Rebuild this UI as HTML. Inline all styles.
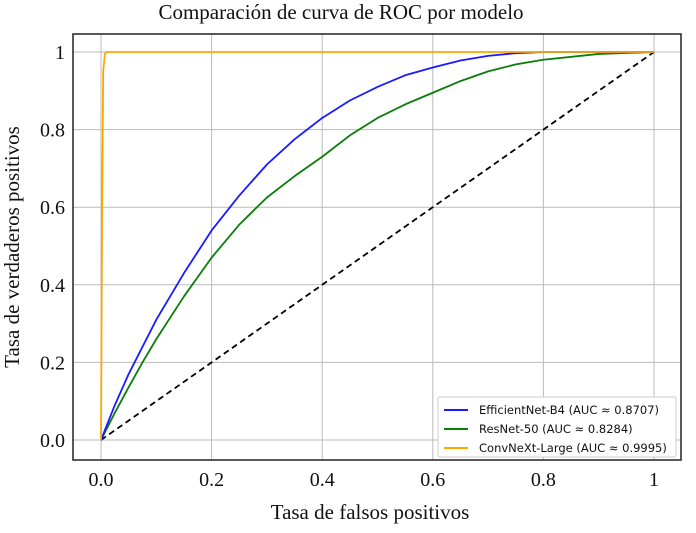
<!DOCTYPE html>
<html><head><meta charset="utf-8"><style>
body{margin:0;background:#fff;}
svg text{font-family:"Liberation Serif",serif;fill:#111;}
</style></head><body>
<svg id="chart" width="696" height="528" viewBox="0 0 696 528" xmlns="http://www.w3.org/2000/svg">
<text x="341" y="19" font-size="21" text-anchor="middle">Comparación de curva de ROC por modelo</text>
<text x="370" y="519" font-size="21" text-anchor="middle">Tasa de falsos positivos</text>
<text transform="translate(19,247) rotate(-90)" font-size="21" text-anchor="middle">Tasa de verdaderos positivos</text>
<g id="grid"></g>
<g id="marks"></g>
<rect x="73" y="34" width="608" height="426" fill="none" stroke="#222" stroke-width="1.5"/>
<g id="legend">
<rect x="438" y="397" width="238" height="60" fill="#fff" stroke="#ccc" rx="2"/>
</g>
</svg>
<script>
const xTicks=[0,0.2,0.4,0.6,0.8,1];
const xTickLabels=["0.0","0.2","0.4","0.6","0.8","1"];
const yTicks=[0,0.2,0.4,0.6,0.8,1];
const yTickLabels=["0.0","0.2","0.4","0.6","0.8","1"];
const seriesNames=["EfficientNet-B4 (AUC ≈ 0.8707)","ResNet-50 (AUC ≈ 0.8284)","ConvNeXt-Large (AUC ≈ 0.9995)"];
const effFpr=[0,0.025,0.05,0.075,0.1,0.15,0.2,0.25,0.3,0.35,0.4,0.45,0.5,0.55,0.6,0.65,0.7,0.75,0.8,0.9,1];
const effTpr=[0,0.09,0.17,0.24,0.31,0.43,0.54,0.63,0.71,0.775,0.83,0.875,0.91,0.94,0.96,0.978,0.99,0.997,1.0,1.0,1.0];
const resFpr=[0,0.025,0.05,0.075,0.1,0.15,0.2,0.25,0.3,0.35,0.4,0.45,0.5,0.55,0.6,0.65,0.7,0.75,0.8,0.9,1];
const resTpr=[0,0.07,0.136,0.2,0.26,0.37,0.47,0.555,0.625,0.68,0.73,0.785,0.83,0.865,0.895,0.925,0.95,0.968,0.98,0.995,1];
const cnxFpr=[0,0.002,0.004,0.007,0.01,1];
const cnxTpr=[0,0.6,0.95,0.995,1,1];
const ns="http://www.w3.org/2000/svg";
const X=v=>101+v*553, Y=v=>440-v*388;
const grid=document.getElementById('grid'), marks=document.getElementById('marks'), svg=document.getElementById('chart');
function mk(t,a,p){const e=document.createElementNS(ns,t);for(const k in a)e.setAttribute(k,a[k]);p.appendChild(e);return e;}
xTicks.forEach((v,i)=>{
 const l=mk('line',{x1:X(v),x2:X(v),y1:34,y2:460,stroke:'#bbb','stroke-width':1},grid);
 
 
 const t=mk('text',{x:X(v),y:486,'font-size':20,'text-anchor':'middle'},svg);
 t.textContent=xTickLabels[i];
 
 
});
yTicks.forEach((v,i)=>{
 const l=mk('line',{x1:73,x2:681,y1:Y(v),y2:Y(v),stroke:'#bbb','stroke-width':1},grid);
 
 
 const t=mk('text',{x:65,y:Y(v)+7,'font-size':20,'text-anchor':'end'},svg);
 t.textContent=yTickLabels[i];
 
 
});
const d=mk('line',{x1:X(0),y1:Y(0),x2:X(1),y2:Y(1),stroke:'#000','stroke-width':1.8,'stroke-dasharray':'6,4'},marks);


function curve(xs,ys,c,name){
 const p=mk('polyline',{points:xs.map((x,i)=>X(x)+','+Y(ys[i])).join(' '),fill:'none',stroke:c,'stroke-width':1.8,'stroke-linejoin':'round'},marks);
 
 
}
curve(resFpr,resTpr,'#0a7d0a','resnet50-curve');
curve(effFpr,effTpr,'#1a1aff','efficientnet-b4-curve');
curve(cnxFpr,cnxTpr,'#ffa500','convnext-large-curve');
const colors=['#1a1aff','#0a7d0a','#ffa500'];
const lg=document.getElementById('legend');
seriesNames.forEach((n,i)=>{
 const y=410+i*19;
 const l=mk('line',{x1:444,x2:468,y1:y,y2:y,stroke:colors[i],'stroke-width':2},lg);
 
 
 const t=mk('text',{x:479,y:y+4,'font-size':11.5,style:'font-family:"DejaVu Sans",sans-serif'},lg);
 t.textContent=n;
 
 
});
</script>
</body></html>
